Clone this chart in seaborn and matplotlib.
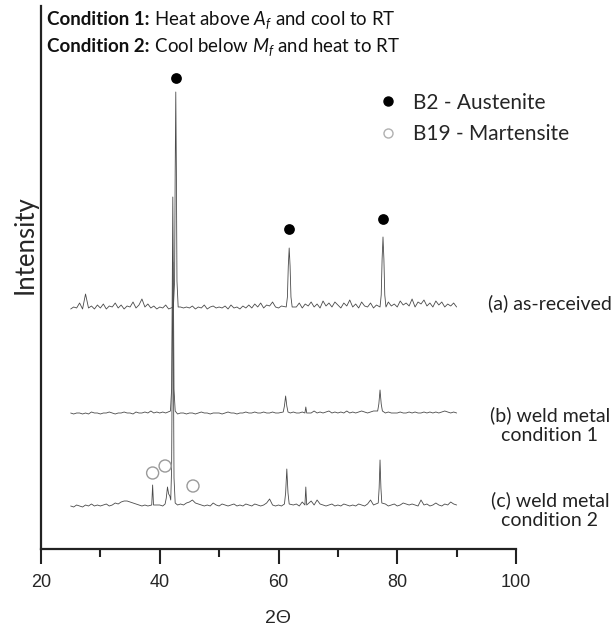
import numpy as np
import pandas as pd
import matplotlib
matplotlib.use("Agg")
import matplotlib.pyplot as plt
import seaborn as sns
from matplotlib.lines import Line2D

# ---------------- data ----------------
grid_start, grid_step = 25.0, 0.5   # 2-theta grid of background readings (25 .. 90)

noise_a = [2,4,3,8,2,17,3,5,2,6,
           3,7,2,5,4,8,3,6,2,5,
           4,9,3,6,12,4,7,3,5,2,
           4,3,6,2,5,3,2,4,3,4,
           3,5,2,4,3,6,2,4,5,3,
           4,3,5,2,6,3,4,2,5,3,
           6,3,7,4,8,3,6,5,9,4,
           3,5,2,4,3,6,4,8,3,7,
           5,9,4,7,3,10,5,8,4,9,
           6,3,8,5,11,4,7,3,9,5,
           4,8,3,6,5,4,3,9,5,7,
           4,10,6,8,5,12,4,9,7,11,
           5,8,4,10,6,9,4,7,5,8,
           4]
noise_b = [1,0,1,1,0,1,0,2,1,1,
           0,1,1,2,1,0,1,1,2,1,
           1,0,2,1,1,2,1,3,1,2,
           1,2,1,2,1,1,0,1,1,0,
           1,1,0,1,2,1,1,0,1,1,
           1,0,1,2,1,1,0,1,1,2,
           1,1,2,1,1,2,1,1,2,1,
           1,1,2,1,1,2,1,1,2,1,
           2,1,3,1,2,1,2,3,1,2,
           1,2,1,3,1,2,1,2,3,2,
           1,2,3,2,1,2,1,2,1,1,
           1,2,1,1,2,1,2,1,1,2,
           1,2,1,2,1,2,3,2,1,2,
           1]
noise_c = [2,1,3,2,1,3,2,4,2,3,
           2,3,4,2,3,5,4,6,7,7,
           6,5,4,3,2,3,2,3,4,3,
           3,2,4,3,5,4,3,4,3,5,
           6,8,5,4,3,2,3,2,5,3,
           2,4,3,2,3,4,2,3,2,4,
           3,2,4,3,2,3,5,9,3,2,
           3,2,3,4,5,3,4,2,6,3,
           4,7,3,8,4,3,2,3,4,2,
           3,2,4,3,2,3,2,4,3,2,
           4,8,3,5,4,3,4,2,3,4,
           2,3,5,4,3,4,3,2,8,3,
           4,2,3,5,3,2,4,3,6,4,
           3]

peak_a_x = [42.3,42.5,42.6,42.7,42.8,42.9,43.1,
            61.3,61.5,61.65,61.8,61.95,62.1,62.3,
            77.1,77.3,77.45,77.6,77.75,77.9,78.1]
peak_a_y = [4,30,140,219,140,30,4,
            4,14,45,63,45,14,4,
            4,16,52,74,52,16,4]

peak_b_x = [41.8,42.0,42.1,42.2,42.3,42.4,42.6,
            60.8,61.0,61.2,61.4,61.6,
            64.45,64.6,64.75,
            76.7,76.9,77.1,77.3,77.5]
peak_b_y = [3,25,130,217,130,25,3,
            2,8,18,8,2,
            1,7,1,
            3,10,24,10,3]

peak_c_x = [38.65,38.8,38.95,
            40.9,41.1,41.3,41.5,41.7,41.85,
            42.0,42.1,42.2,42.3,42.4,42.6,
            61.0,61.2,61.4,61.6,61.8,
            64.45,64.6,64.75,
            76.8,76.95,77.1,77.25,77.4]
peak_c_y = [3,23,3,
            4,10,21,14,12,8,
            40,150,246,150,30,5,
            4,15,39,15,4,
            3,21,3,
            5,20,48,20,5]

trace_names = ["(a) as-received", "(b) weld metal\ncondition 1", "(c) weld metal\ncondition 2"]

aust_x = [42.7, 61.8, 77.6]      # B2 austenite reflections (trace a)
aust_y = [233, 82, 92]
mart_x = [38.8, 40.9, 45.6]      # B19 martensite reflections (trace c)
mart_y = [35, 42, 22]

x_ticks = [20, 40, 60, 80, 100]

# ---------------- layout / style ----------------
offsets = [238, 135, 41]
line_col = "#4a4a4a"

def build(noise, px, py):
    gx = grid_start + grid_step * np.arange(len(noise))
    gy = np.array(noise, dtype=float)
    px = np.array(px); py = np.array(py, dtype=float)
    keep = np.array([np.min(np.abs(px - v)) > 0.3 for v in gx])
    x = np.concatenate([gx[keep], px]); y = np.concatenate([gy[keep], py])
    o = np.argsort(x)
    return x[o], y[o]

traces = [build(noise_a, peak_a_x, peak_a_y),
          build(noise_b, peak_b_x, peak_b_y),
          build(noise_c, peak_c_x, peak_c_y)]

sns.set_theme(style="white")
plt.rcParams["font.family"] = ["Lato", "DejaVu Sans"]
plt.rcParams["mathtext.fontset"] = "custom"
plt.rcParams["mathtext.it"] = "Lato:italic"
plt.rcParams["mathtext.rm"] = "Lato"

fig = plt.figure(figsize=(6.14, 6.32), dpi=100)
ax = fig.add_axes([41/614, 1-549/632, 475/614, 543/632])

for (x, y), off, name in zip(traces, offsets, trace_names):
    df = pd.DataFrame({"two_theta": x, "intensity": y + off})
    sns.lineplot(data=df, x="two_theta", y="intensity", ax=ax, color=line_col,
                 linewidth=0.6, estimator=None, sort=False)

sns.scatterplot(x=aust_x, y=np.array(aust_y) + offsets[0], ax=ax, s=60,
                color="black", edgecolor="black", linewidth=0, zorder=5)
sns.scatterplot(x=mart_x, y=np.array(mart_y) + offsets[2], ax=ax, s=75,
                facecolor="none", edgecolor="#9a9a9a", linewidth=1.0, zorder=5)

label_y = [offsets[0] + 8, offsets[1] - 11, offsets[2] - 2]
for name, ly in zip(trace_names, label_y):
    ax.text(105.7, ly, name, ha="center", va="center", fontsize=14,
            clip_on=False, linespacing=1.25, color="#222222")

ax.set_xlim(20, 100)
ax.set_ylim(0, 543)
ax.set_xticks(x_ticks)
ax.set_xticks([30, 50, 70, 90], minor=True)
ax.set_xticklabels([str(t) for t in x_ticks], family="Liberation Sans", fontsize=13)
ax.set_yticks([])
ax.tick_params(axis="x", which="major", direction="out", length=11, width=1.5,
               color="#222222", pad=7, bottom=True)
ax.tick_params(axis="x", which="minor", direction="out", length=6, width=1.5,
               color="#222222", bottom=True)
for s in ["top", "right"]:
    ax.spines[s].set_visible(False)
for s in ["left", "bottom"]:
    ax.spines[s].set_color("#222222")
    ax.spines[s].set_linewidth(1.6)

ax.set_xlabel("2Θ", family="Liberation Sans", fontsize=14, labelpad=14)
ax.set_ylabel("Intensity", fontsize=18.5, va="center")
ax.yaxis.set_label_coords(-0.034, 0.56)

handles = [Line2D([], [], ls="none", marker="o", ms=6.5, color="black"),
           Line2D([], [], ls="none", marker="o", ms=6.5, mfc="none", mec="#b0b0b0", mew=1)]
ax.legend(handles, ["B2 - Austenite", "B19 - Martensite"], frameon=False,
          fontsize=15, loc="upper left", bbox_to_anchor=(0.691, 0.856),
          handlelength=1.0, handletextpad=0.7, labelspacing=0.55, borderaxespad=0)

# header lines: bold part + regular part
fig.canvas.draw()
r = fig.canvas.get_renderer()
for i, (b, rest) in enumerate([("Condition 1:", r" Heat above $A_f$ and cool to RT"),
                               ("Condition 2:", r" Cool below $M_f$ and heat to RT")]):
    yy = 1 - (25 + 27 * i) / 632
    t1 = fig.text(47/614, yy, b, fontweight="bold", fontsize=13.5, va="baseline",
                  color="#111111")
    ext = t1.get_window_extent(renderer=r)
    fig.text(ext.x1 / fig.bbox.width, yy, rest, fontsize=13.4, va="baseline",
             color="#111111")

fig.savefig("out.png", dpi=100)
